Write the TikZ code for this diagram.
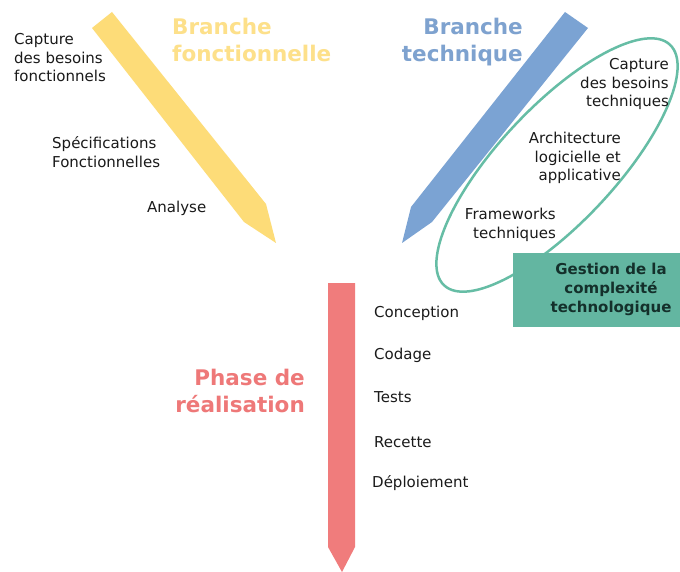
\documentclass[tikz,border=0pt]{standalone}
\usepackage{fontspec}
\setmainfont{DejaVu Sans}

\definecolor{fonctArrow}{HTML}{FDDC78}
\definecolor{fonctTitle}{HTML}{FDE08A}
\definecolor{techArrow}{HTML}{7BA3D3}
\definecolor{techTitle}{HTML}{7EA2CF}
\definecolor{realArrow}{HTML}{F07C7C}
\definecolor{realTitle}{HTML}{EE7878}
\definecolor{gestionFill}{HTML}{63B6A1}
\definecolor{gestionLine}{HTML}{66BDA5}
\definecolor{gestionText}{HTML}{14302B}
\definecolor{labelText}{HTML}{1A1A1A}

\begin{document}
% multi-line nodes are placed by the baseline of their last line
\begin{tikzpicture}[x=1pt,y=-1pt,
  itemL/.style={anchor=base west, inner sep=0pt, align=left, text=labelText,
    font=\fontsize{15}{18.5}\selectfont},
  itemR/.style={itemL, anchor=base east, align=right},
  titleL/.style={anchor=base west, inner sep=0pt, align=left,
    font=\fontsize{21.5}{27}\selectfont\bfseries},
  titleR/.style={titleL, anchor=base east, align=right},
  gestionbox/.style={fill=gestionFill, draw=none, inner sep=0pt,
    minimum width=167pt, minimum height=74pt},
  gestionlabel/.style={anchor=base, inner sep=0pt, align=center, text=gestionText,
    font=\fontsize{15}{19}\selectfont\bfseries}
]
\useasboundingbox (0,0) rectangle (680,572);
\fill[white] (0,0) rectangle (680,572);

% functional branch pencil
\fill[fonctArrow] (92,28) -- (112,12) -- (266,204) -- (276,243) -- (244,222) -- cycle;
% technical branch pencil
\fill[techArrow] (565,12) -- (588,28) -- (432,222) -- (402,243) -- (411,207) -- cycle;
% realisation pencil
\fill[realArrow] (328,283) -- (355,283) -- (355,547) -- (342,572) -- (328,547) -- cycle;

% technological complexity loop
\draw[gestionLine, line width=2.5pt, rotate around={46.8:(557,165)}]
  (557,165) ellipse [x radius=165pt, y radius=58pt];

% titles
\node[titleL, text=fonctTitle] (tfonct) at (172,62) {Branche\\fonctionnelle};
\node[titleR, text=techTitle] (ttech) at (523,62) {Branche\\technique};
\node[titleR, text=realTitle] (treal) at (305,412) {Phase de\\réalisation};

% functional steps
\node[itemL] (capf) at (14,82) {Capture\\des besoins\\fonctionnels};
\node[itemL] (spec) at (52,167.5) {Spécifications\\Fonctionnelles};
\node[itemL] (anal) at (147,213) {Analyse};

% technical steps
\node[itemR] (capt) at (669,107) {Capture\\des besoins\\techniques};
\node[itemR] (arch) at (621,181) {Architecture\\logicielle et\\applicative};
\node[itemR] (fwk) at (556,238.5) {Frameworks\\techniques};

% realisation steps
\node[itemL] (conc) at (374,317) {Conception};
\node[itemL] (coda) at (374,359) {Codage};
\node[itemL] (test) at (374,402) {Tests};
\node[itemL] (rece) at (374,447) {Recette};
\node[itemL] (depl) at (372,487) {Déploiement};

% complexity box
\node[gestionbox] (gestion) at (596.5,290) {};
\node[gestionlabel] (gestiontext) at (611,312) {Gestion de la\\complexité\\technologique};
\end{tikzpicture}
\end{document}
